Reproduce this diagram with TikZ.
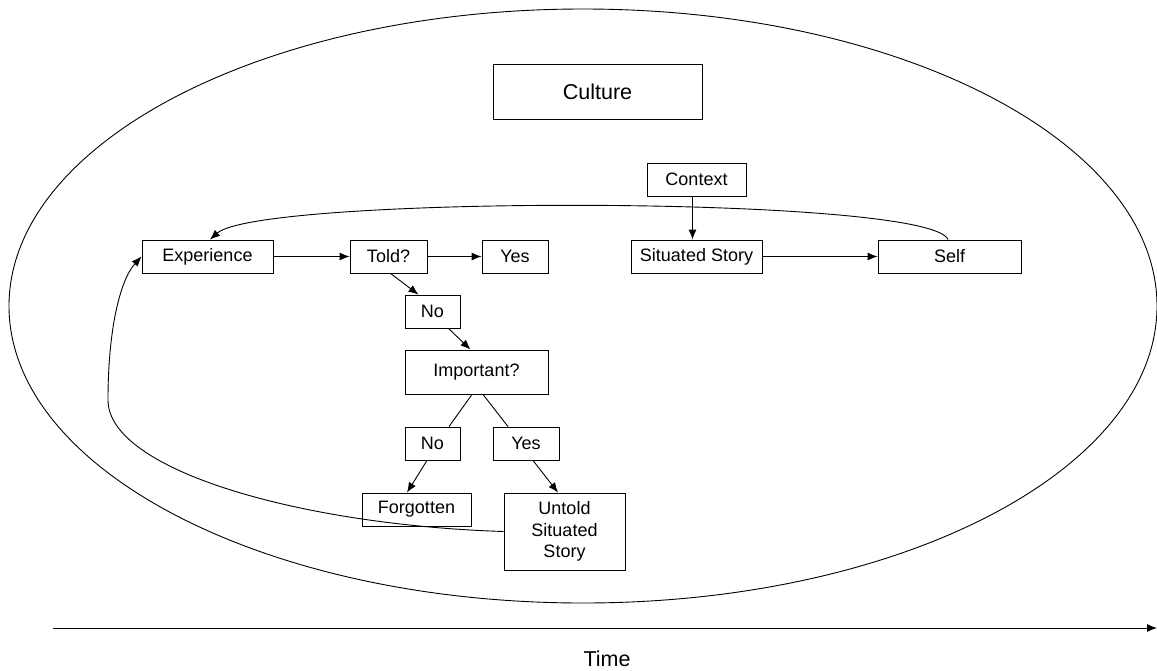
\documentclass[tikz,border=0pt]{standalone}
\usepackage{fontspec}
\setmainfont{Liberation Sans}
\usepackage{tikz}
\usetikzlibrary{calc}
\usetikzlibrary{arrows.meta}
\tikzset{bx/.style={draw=black, line width=0.9pt, inner sep=1pt, minimum height=33pt, align=center, font=\fontsize{18}{21.7}\selectfont},
        lg/.style={font=\fontsize{21.5}{25}\selectfont},
        ln/.style={line width=0.9pt},
        ar/.style={line width=0.9pt, -{Latex[length=10pt, width=8pt]}}}

\begin{document}
\begin{tikzpicture}[x=1pt, y=-1pt]
    \useasboundingbox (0,0) rectangle (1157,670);

    % the big ellipse
    \draw[ln] (583,306) ellipse [x radius=574pt, y radius=297pt];

    % boxes
    \node[bx, lg, minimum width=209pt, minimum height=55pt] (culture) at (597.5,91.5) {Culture};
    \node[bx, minimum width=99pt] (context) at (696.5,179.5) {Context};
    \node[bx, minimum width=131pt] (experience) at (207.5,256.5) {Experience};
    \node[bx, minimum width=77pt] (told) at (388.5,256.5) {Told?};
    \node[bx, minimum width=66pt] (yes1) at (515,256.5) {Yes};
    \node[bx, minimum width=131pt] (situated) at (696.5,256.5) {Situated Story};
    \node[bx, minimum width=143pt] (self) at (949.5,256.5) {Self};
    \node[bx, minimum width=55pt] (no1) at (432.5,311.5) {No};
    \node[bx, minimum width=143pt, minimum height=44pt] (important) at (476.5,372) {Important?};
    \node[bx, minimum width=55pt] (no2) at (432.5,443.5) {No};
    \node[bx, minimum width=66pt] (yes2) at (526,443.5) {Yes};
    \node[bx, minimum width=109pt] (forgotten) at (416.5,509.5) {Forgotten};
    \node[bx, minimum width=121pt, minimum height=77pt] (untold) at (564.5,531.5) {Untold\\Situated\\Story};

    % straight connectors
    \draw[ar] (experience) -- (told);
    \draw[ar] (told) -- (yes1);
    \draw[ar] ([xshift=2pt]told.south) -- ([xshift=-14pt]no1.north);
    \draw[ar] ([xshift=16pt]no1.south) -- ([xshift=-6pt]important.north);
    \draw[ln] ([xshift=-4.5pt]important.south) -- ([xshift=16.5pt]no2.north);
    \draw[ln] ([xshift=6.5pt]important.south) -- ([xshift=-18pt]yes2.north);
    \draw[ar] ([xshift=-5.5pt]no2.south) -- ([xshift=-9.5pt]forgotten.north);
    \draw[ar] ([xshift=7pt]yes2.south) -- ([xshift=-6.5pt]untold.north);
    \draw[ar] ([xshift=-4pt]context.south) -- ([xshift=-4pt]context.south |- situated.north);
    \draw[ar] (situated) -- (self);

    % loops back to the experience
    \draw[ar] ([xshift=-1.5pt]self.north) .. controls (930,195) and (260,195) .. ([xshift=2.5pt]experience.north);
    \draw[ar] (untold.west) .. controls (300,525) and (108,470) .. (108,400) .. controls (108,330) and (120,280) .. (experience.west);

    % time axis
    \coordinate (t0) at (53,628);
    \coordinate (t1) at (1157,628);
    \draw[ar] (t0) -- (t1);
    \node[lg] (time) at (607,659) {Time};
\end{tikzpicture}
\end{document}
